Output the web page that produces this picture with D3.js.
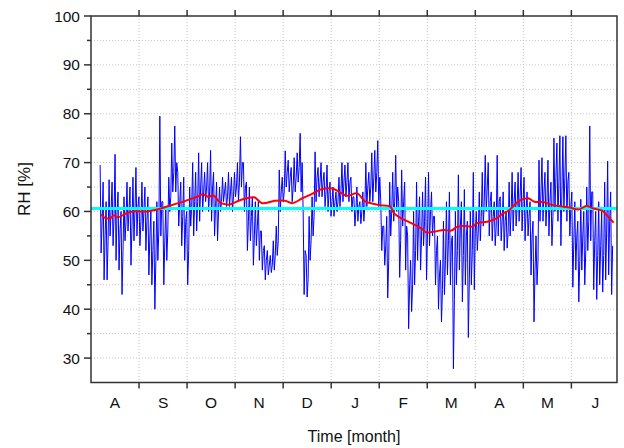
<!DOCTYPE html>
<html lang="en">
<head>
    <meta charset="utf-8">
    <title>RH</title>
    <style>
        body{ margin:0; background:#fff; }
        #chart text{ font-family: Arial, "Liberation Sans", sans-serif; fill:#111; }
    </style>
    <script src="https://cdn.jsdelivr.net/npm/d3@7/dist/d3.min.js"></script>
</head>
<body>
<div id="chart"></div>
<script>
    // month labels, Aug .. Jun
    var months = ["A","S","O","N","D","J","F","M","A","M","J"];
    var yTicks = [30,40,50,60,70,80,90,100];
    var yMinor = [35,45,55,65,75,85,95];

    var rhStart = 0.19, rhEnd = 10.88;
    var rhSwing = [
        69.5,51.5, 66,46, 62,46, 66.5,55, 66,53, 71.7,50, 64,48, 60,43, 63,54, 66,56, 65,49, 67,54, 69,55, 63,53,
        66,56, 65,52, 63,47, 60,45, 58,40, 62,50, 79.5,55, 62,45, 61,50, 67,60, 74,64, 77.5,64, 68,57, 66,53, 67,50, 60,45,
        65,57, 70,55, 68,56, 72,58, 70,60, 68,62, 70,60, 72.5,58, 68,55, 66,54, 65,60, 67,62, 66,61, 68,61, 67,60, 68,63,
        70,62, 75.3,65, 70,60, 66,52, 65,54, 63,49, 62,53, 62,50, 56,48, 53,46, 52,47, 51,47.5, 54,48, 57,51, 68.5,60, 67,62,
        72.4,65, 70.5,64, 69,62, 71,64, 72,66, 76,64, 60,43, 51,42.5, 59,50, 63,55, 72.2,62, 69,63, 70,63, 68,61, 69.5,60, 66,59,
        65,59, 64,60, 67,61, 70,62, 69.5,63, 70,62, 67,60, 63,57, 65,58, 62,57.5, 64,58, 70,61, 68,62, 72,62, 72.5,64, 74.5,61,
        62,52, 57,49, 59,42.3, 66,55, 68,58, 71.5,60, 62,46.5, 68.5,57, 66,48, 55,36, 50,39.5, 60,45, 66,50, 63,48, 64,53, 67,46,
        68,53, 64,55, 59,45, 55,40, 50,37.4, 58,43, 62,47, 64,45, 55,27.8, 60,45, 67.5,48, 62,41.5, 64.5,45, 58,34.2, 60,45, 68,44,
        60,52, 64,54, 68,57, 71.5,60, 70,55, 64,54, 62,53, 71.5,55, 63,54, 64,52, 60,52.5, 66,55, 68,56, 66,57, 68,58, 69,56,
        67,54, 64,55, 62,47, 58,37.4, 55,45, 70.5,58, 71,58, 68,57, 70.5,55, 66,53, 75,60, 74,58, 75.5,53, 75.3,60, 75.5,58, 68,55,
        64,44.5, 62,48, 58,41.5, 62.5,48, 60,45, 65,52, 77.5,54, 64,44, 60,42, 62,45, 60,43.5, 66,46, 70.3,47, 64,43
    ];
    // where the trace mostly sits inside each slot
    var rhCore = [
        58,55,54,60,59,60,56,52,58,60,57,60,61,58,
        60,58,55,52,50,56,62,54,56,63,68,70,62,59,58,52,
        61,62,62,65,64,65,64,65,61,60,62,64,63,64,63,65,
        66,70,65,58,59,55,57,56,52,50,49,49,51,54,64,64,
        68,67,65,67,69,70,52,46,54,59,67,66,66,64,64,62,
        62,62,64,66,66,66,63,60,61,60,61,65,65,67,68,67,
        57,53,50,60,62,65,54,62,57,45,45,52,58,55,58,56,
        60,59,52,47,44,50,54,54,42,52,57,51,55,46,52,56,
        56,59,62,65,62,59,57,62,58,58,56,60,62,61,63,62,
        60,59,55,48,50,64,64,62,62,59,67,66,64,67,66,61,
        54,55,50,55,52,58,64,54,51,53,51,56,58,53
    ];

    // running mean (red)
    var smoothMonth = [0.21,0.29,0.40,0.48,0.56,0.75,0.88,1.17,1.38,1.58,1.85,2.06,2.23,2.33,2.44,2.54,2.69,2.79,
        2.88,3.10,3.25,3.40,3.56,3.83,4.04,4.19,4.40,4.60,4.81,5.02,5.17,5.33,5.54,5.71,5.83,6.02,6.23,
        6.31,6.46,6.67,6.88,6.98,7.15,7.35,7.50,7.63,7.83,7.94,8.04,8.25,8.44,8.58,8.71,8.92,9.10,9.23,
        9.44,9.54,9.73,9.96,10.15,10.31,10.46,10.63,10.77,10.88];
    var smoothRH = [59.4,58.7,58.6,59.2,58.8,59.7,60.0,60.0,60.4,61.0,61.8,62.5,63.1,63.5,63.0,63.3,61.8,61.5,
        61.4,62.3,62.7,62.9,61.7,62.2,62.2,61.7,62.7,63.6,64.6,64.7,64.0,63.2,63.7,62.0,61.7,61.3,61.0,
        59.6,58.6,57.6,56.5,55.7,55.9,56.2,56.1,56.9,57.0,56.9,57.6,57.9,58.6,59.6,60.3,62.2,62.7,62.0,
        61.9,61.5,61.1,60.8,60.4,61.1,60.6,60.2,58.9,57.7];

    // annual mean
    var meanRH = 60.6;

    function drawChart(divname) {
        var W = 624, H = 448;
        var m = {left:91, top:16, right:7, bottom:65.5};
        var w = W - m.left - m.right, h = H - m.top - m.bottom;

        var svg = d3.select('#'+divname).append('svg')
            .attr('width', W).attr('height', H);
        var g = svg.append('g').attr('transform','translate('+m.left+','+m.top+')');

        var x = d3.scaleLinear().domain([0, 10.95]).range([0, w]);
        var y = d3.scaleLinear().domain([25, 100]).range([h, 0]);

        // grid
        var gridY = d3.range(30, 100, 5);
        g.append('g').selectAll('line').data(gridY).enter().append('line')
            .attr('x1', 0).attr('x2', w)
            .attr('y1', function(d){ return y(d); }).attr('y2', function(d){ return y(d); })
            .attr('stroke', '#c4c4c4').attr('stroke-width', 1).attr('stroke-dasharray', '1,2');
        g.append('g').selectAll('line').data(d3.range(1, 11)).enter().append('line')
            .attr('y1', 0).attr('y2', h)
            .attr('x1', function(d){ return x(d); }).attr('x2', function(d){ return x(d); })
            .attr('stroke', '#c4c4c4').attr('stroke-width', 1).attr('stroke-dasharray', '1,2');

        g.append('clipPath').attr('id','clip').append('rect').attr('width', w).attr('height', h);
        var plot = g.append('g').attr('clip-path','url(#clip)');

        // blue measured series: high, low, core per slot
        var n = rhCore.length;
        var dt = (rhEnd - rhStart) / n;
        var blue = [];
        rhCore.forEach(function(c, i){
            var t = rhStart + i*dt;
            blue.push([t, rhSwing[2*i]]);
            blue.push([t + dt/3, rhSwing[2*i+1]]);
            blue.push([t + 2*dt/3, c]);
        });
        plot.append('path').datum(blue)
            .attr('fill','none').attr('stroke','#0000ff').attr('stroke-width', 1)
            .attr('stroke-linejoin','round')
            .attr('d', d3.line().x(function(d){ return x(d[0]); }).y(function(d){ return y(d[1]); }));

        // cyan mean
        plot.append('line')
            .attr('x1', 0).attr('x2', w).attr('y1', y(meanRH)).attr('y2', y(meanRH))
            .attr('stroke', '#00ffff').attr('stroke-width', 3);

        // red smoothed
        plot.append('path').datum(d3.zip(smoothMonth, smoothRH))
            .attr('fill','none').attr('stroke','#ff0000').attr('stroke-width', 2)
            .attr('d', d3.line().curve(d3.curveCatmullRom)
                .x(function(d){ return x(d[0]); }).y(function(d){ return y(d[1]); }));

        // frame
        var axisCol = '#333';
        g.append('rect').attr('width', w).attr('height', h)
            .attr('fill','none').attr('stroke', axisCol).attr('stroke-width', 1.5);

        // y axis ticks + labels
        var yAx = g.append('g');
        yAx.selectAll('line.maj').data(yTicks).enter().append('line')
            .attr('x1', -7).attr('x2', 0)
            .attr('y1', function(d){ return y(d); }).attr('y2', function(d){ return y(d); })
            .attr('stroke', axisCol).attr('stroke-width', 1.5);
        yAx.selectAll('line.min').data(yMinor).enter().append('line')
            .attr('x1', -4).attr('x2', 0)
            .attr('y1', function(d){ return y(d); }).attr('y2', function(d){ return y(d); })
            .attr('stroke', axisCol).attr('stroke-width', 1.5);
        yAx.selectAll('text').data(yTicks).enter().append('text')
            .attr('x', -11).attr('y', function(d){ return y(d); }).attr('dy', '0.36em')
            .attr('text-anchor', 'end').style('font-size', '15.5px')
            .text(function(d){ return d; });

        // x ticks top & bottom
        var xt = d3.range(1, 11);
        g.append('g').selectAll('line').data(xt).enter().append('line')
            .attr('x1', function(d){ return x(d); }).attr('x2', function(d){ return x(d); })
            .attr('y1', h).attr('y2', h + 6)
            .attr('stroke', axisCol).attr('stroke-width', 1.5);
        g.append('g').selectAll('line').data(xt).enter().append('line')
            .attr('x1', function(d){ return x(d); }).attr('x2', function(d){ return x(d); })
            .attr('y1', 0).attr('y2', -6)
            .attr('stroke', axisCol).attr('stroke-width', 1.5);
        g.append('g').selectAll('text').data(months).enter().append('text')
            .attr('x', function(d, i){ return x(i + 0.5); }).attr('y', h + 25.5)
            .attr('text-anchor', 'middle').style('font-size', '15.5px')
            .text(function(d){ return d; });

        // axis titles
        g.append('text').attr('x', w/2).attr('y', h + 59)
            .attr('text-anchor', 'middle').style('font-size', '16px')
            .text('Time [month]');
        svg.append('text').attr('transform', 'translate(30,189) rotate(-90)')
            .attr('text-anchor', 'middle').style('font-size', '17px')
            .text('RH [%]');
    }
    drawChart("chart");
</script>
</body>
</html>
